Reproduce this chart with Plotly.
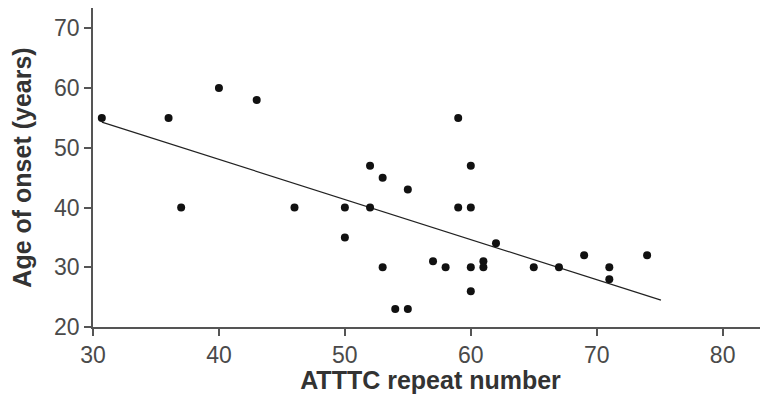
import plotly.graph_objects as go

# Data
repeat_number = [30.7, 36, 37, 40, 43, 46, 50, 50, 52, 52, 53, 53, 54, 55, 55, 57, 58,
                 59, 59, 60, 60, 60, 60, 61, 61, 62, 65, 67, 69, 71, 71, 74]
age_onset = [55, 55, 40, 60, 58, 40, 40, 35, 47, 40, 45, 30, 23, 23, 43, 31, 30,
             55, 40, 47, 40, 30, 26, 31, 30, 34, 30, 30, 32, 30, 28, 32]
fit_x = [30.7, 75.1]
fit_y = [54.3, 24.5]
x_ticks = [30, 40, 50, 60, 70, 80]
y_ticks = [20, 30, 40, 50, 60, 70]

fig = go.Figure()
fig.add_trace(go.Scatter(x=fit_x, y=fit_y, mode="lines",
                         line=dict(color="#222222", width=1.2), showlegend=False))
fig.add_trace(go.Scatter(x=repeat_number, y=age_onset, mode="markers",
                         marker=dict(color="#111111", size=8), showlegend=False))

axis_common = dict(showgrid=False, zeroline=False, showline=True, linecolor="#555555",
                   linewidth=1.5, ticks="outside", ticklen=7, tickwidth=1.5,
                   tickcolor="#555555",
                   tickfont=dict(family="Liberation Sans, Arial", size=23, color="#4a4a4a"))

# page body has an 8px default margin, so the figure is sized to fit the window
fig.update_layout(
    width=760, height=386,
    margin=dict(l=85, r=0, t=0, b=67),
    paper_bgcolor="white", plot_bgcolor="white",
    xaxis=dict(range=[30, 83.6], tickvals=x_ticks, **axis_common,
               title=dict(text="<b>ATTTC repeat number</b>", standoff=2,
                          font=dict(family="Liberation Sans, Arial", size=25, color="#333333"))),
    yaxis=dict(range=[20, 73.4], tickvals=y_ticks, **axis_common,
               title=dict(text="<b>Age of onset (years)</b>", standoff=17,
                          font=dict(family="Liberation Sans, Arial", size=25, color="#333333"))),
)

fig.write_html("out.html")
